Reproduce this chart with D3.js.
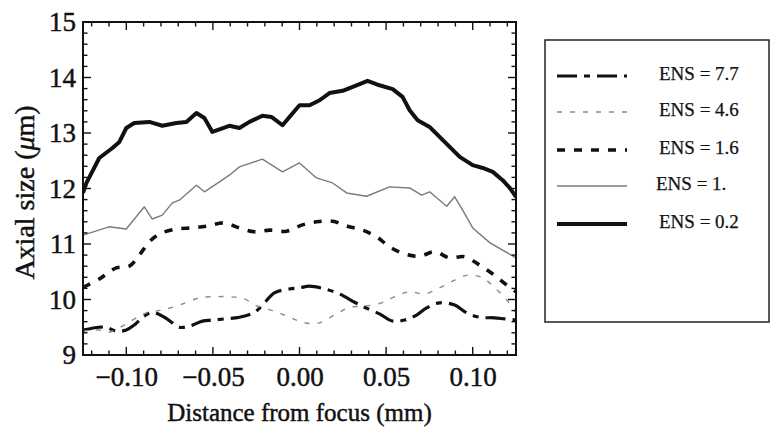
<!DOCTYPE html>
<html>
<head>
<meta charset="utf-8">
<script src="https://cdn.jsdelivr.net/npm/d3@7"></script>
<style>
  html, body { margin: 0; padding: 0; background: #fff; }
  svg { display: block; }
  text { font-family: "Liberation Serif", "Times New Roman", serif; fill: #111; }
</style>
</head>
<body>
<svg id="chart" width="771" height="430"></svg>
<script>
// ---- data ----
const x77 = [-0.125,-0.1156,-0.1116,-0.1058,-0.100,-0.0954,-0.0896,-0.085,-0.078,-0.0734,-0.0694,-0.0636,-0.056,-0.0503,-0.0434,-0.0347,-0.026,-0.0202,-0.0145,-0.0058,0,0.0058,0.0145,0.0231,0.0318,0.0376,0.0462,0.0538,0.0607,0.0676,0.0734,0.0809,0.0896,0.0965,0.104,0.1127,0.1185,0.125];
const y77 = [9.45,9.50,9.50,9.43,9.45,9.54,9.70,9.77,9.68,9.58,9.50,9.52,9.61,9.63,9.65,9.68,9.77,9.94,10.12,10.19,10.21,10.24,10.19,10.10,9.95,9.86,9.74,9.61,9.63,9.72,9.85,9.94,9.90,9.76,9.68,9.67,9.65,9.63];

const x46 = [-0.125,-0.1156,-0.110,-0.1012,-0.0925,-0.0884,-0.0792,-0.0694,-0.0578,-0.0491,-0.0405,-0.0318,-0.0243,-0.0145,-0.0058,0.0029,0.0116,0.0202,0.0289,0.0376,0.0474,0.0549,0.0636,0.0723,0.0809,0.0896,0.0971,0.1058,0.1127,0.1197,0.125];
const y46 = [9.43,9.45,9.41,9.54,9.70,9.76,9.81,9.90,10.03,10.05,10.05,10.01,9.88,9.79,9.68,9.58,9.58,9.72,9.86,9.88,9.94,10.05,10.14,10.10,10.21,10.35,10.44,10.39,10.21,9.99,9.76];

const x16 = [-0.125,-0.1156,-0.1058,-0.0983,-0.0925,-0.0867,-0.0809,-0.0711,-0.0618,-0.0538,-0.0434,-0.0347,-0.026,-0.0173,-0.0075,0.0012,0.0098,0.0191,0.0277,0.0364,0.0445,0.052,0.0607,0.0694,0.078,0.0867,0.0954,0.104,0.1116,0.1197,0.125];
const y16 = [10.22,10.37,10.57,10.60,10.80,11.04,11.18,11.27,11.29,11.32,11.38,11.29,11.22,11.25,11.23,11.34,11.40,11.41,11.32,11.25,11.13,10.95,10.82,10.78,10.86,10.75,10.77,10.62,10.46,10.26,10.14];

const x10 = [-0.125,-0.110,-0.100,-0.0896,-0.085,-0.0792,-0.0734,-0.0694,-0.0595,-0.0549,-0.0462,-0.0405,-0.0347,-0.0214,-0.0098,0,0.0098,0.0191,0.0272,0.0387,0.052,0.0636,0.0705,0.0751,0.085,0.0896,0.0942,0.100,0.110,0.125];
const y10 = [11.16,11.31,11.27,11.67,11.45,11.52,11.74,11.79,12.06,11.94,12.12,12.24,12.39,12.53,12.30,12.46,12.19,12.10,11.92,11.86,12.03,12.01,11.88,11.94,11.68,11.85,11.61,11.29,11.02,10.75];

const x02 = [-0.125,-0.123,-0.1156,-0.108,-0.104,-0.100,-0.0954,-0.0867,-0.0792,-0.0711,-0.0653,-0.0595,-0.0549,-0.0503,-0.0405,-0.0347,-0.0289,-0.0214,-0.0162,-0.0098,-0.0058,0,0.0058,0.0116,0.0173,0.0249,0.0329,0.0393,0.0462,0.0538,0.0595,0.0636,0.0682,0.0751,0.0809,0.0867,0.0925,0.100,0.1058,0.1116,0.1173,0.1214,0.125];
const y02 = [11.92,12.10,12.55,12.73,12.84,13.09,13.18,13.20,13.13,13.18,13.20,13.36,13.27,13.02,13.13,13.09,13.20,13.31,13.29,13.14,13.29,13.50,13.50,13.59,13.72,13.76,13.86,13.94,13.86,13.79,13.65,13.41,13.23,13.11,12.93,12.75,12.57,12.42,12.37,12.30,12.15,12.01,11.85];

const legendLabels = ["ENS = 7.7", "ENS = 4.6", "ENS = 1.6", "ENS = 1.", "ENS = 0.2"];
const xTickValues = [-0.10, -0.05, 0.00, 0.05, 0.10];
const xTickLabels = ["\u22120.10", "\u22120.05", "0.00", "0.05", "0.10"];
const yTickValues = [9, 10, 11, 12, 13, 14, 15];
const xTitle = "Distance from focus (mm)";

// ---- layout ----
const svg = d3.select("#chart");
const L = 83, R = 516, T = 22, B = 355;
const x = d3.scaleLinear().domain([-0.125, 0.125]).range([L, R]);
const y = d3.scaleLinear().domain([9, 15]).range([B, T]);

const series = [
  {xs: x77, ys: y77, stroke: "#111", width: 3.2, dash: "20,7,6,7", curve: d3.curveCatmullRom},
  {xs: x46, ys: y46, stroke: "#8a8a8a", width: 1.4, dash: "5,8", curve: d3.curveCatmullRom},
  {xs: x16, ys: y16, stroke: "#111", width: 3.6, dash: "8,9", curve: d3.curveCatmullRom},
  {xs: x10, ys: y10, stroke: "#7a7a7a", width: 1.4, dash: null, curve: d3.curveLinear},
  {xs: x02, ys: y02, stroke: "#111", width: 4, dash: null, curve: d3.curveLinear}
];

svg.append("clipPath").attr("id", "clip")
  .append("rect").attr("x", L).attr("y", T).attr("width", R - L).attr("height", B - T);

const g = svg.append("g").attr("clip-path", "url(#clip)");
series.forEach(s => {
  const pts = s.xs.map((v, i) => [v, s.ys[i]]);
  const line = d3.line().x(d => x(d[0])).y(d => y(d[1])).curve(s.curve);
  g.append("path").datum(pts)
    .attr("d", line)
    .attr("fill", "none")
    .attr("stroke", s.stroke)
    .attr("stroke-width", s.width)
    .attr("stroke-dasharray", s.dash)
    .attr("stroke-linejoin", "round");
});

// ---- axes (ticks inward on all four sides) ----
const xMinor = d3.range(-12, 13).map(v => v / 100);
const yMinor = d3.range(45, 76).map(v => v / 5);

const heavy = sel => sel.attr("stroke", "#111").attr("stroke-width", 0.45);

const axBottom = svg.append("g").attr("transform", `translate(0,${B})`)
  .call(d3.axisBottom(x).tickValues(xTickValues).tickSize(0).tickPadding(12)
        .tickFormat((d, i) => xTickLabels[i]));
axBottom.select(".domain").remove();
axBottom.selectAll("text").attr("font-size", 27).attr("font-family", "Liberation Serif, serif")
  .attr("fill", "#111").attr("dy", "0.71em").call(heavy);

const axLeft = svg.append("g").attr("transform", `translate(${L},0)`)
  .call(d3.axisLeft(y).tickValues(yTickValues).tickSize(0).tickPadding(7).tickFormat(d3.format("d")));
axLeft.select(".domain").remove();
axLeft.selectAll("text").attr("font-size", 27).attr("font-family", "Liberation Serif, serif")
  .attr("fill", "#111").call(heavy);

// tick marks
const tk = svg.append("g").attr("stroke", "#111").attr("stroke-width", 1.4);
xMinor.forEach(v => {
  const major = xTickValues.some(M => Math.abs(M - v) < 1e-9);
  const len = major ? 8 : 4.5;
  tk.append("line").attr("x1", x(v)).attr("x2", x(v)).attr("y1", B).attr("y2", B - len);
  tk.append("line").attr("x1", x(v)).attr("x2", x(v)).attr("y1", T).attr("y2", T + len);
});
yMinor.forEach(v => {
  const major = Math.abs(v - Math.round(v)) < 1e-9;
  const len = major ? 8 : 4.5;
  tk.append("line").attr("y1", y(v)).attr("y2", y(v)).attr("x1", L).attr("x2", L + len);
  tk.append("line").attr("y1", y(v)).attr("y2", y(v)).attr("x1", R).attr("x2", R - len);
});

// frame
svg.append("rect").attr("x", L).attr("y", T).attr("width", R - L).attr("height", B - T)
  .attr("fill", "none").attr("stroke", "#111").attr("stroke-width", 2);

// axis titles
svg.append("text").attr("x", (L + R) / 2).attr("y", 421).attr("text-anchor", "middle")
  .attr("font-size", 25).call(heavy).text(xTitle);

const yt = svg.append("text").attr("transform", `translate(34,${(T + B) / 2 + 4}) rotate(-90)`)
  .attr("text-anchor", "middle").attr("font-size", 28).call(heavy);
yt.append("tspan").text("Axial size (");
yt.append("tspan").attr("font-style", "italic").text("\u03bc");
yt.append("tspan").text("m)");

// ---- legend ----
const lg = svg.append("g");
lg.append("rect").attr("x", 545).attr("y", 40).attr("width", 224).attr("height", 282)
  .attr("fill", "#fff").attr("stroke", "#222").attr("stroke-width", 1.5);
const rowY = [76, 112, 150, 186, 224];
series.forEach((s, i) => {
  lg.append("line").attr("x1", 557).attr("x2", 627).attr("y1", rowY[i]).attr("y2", rowY[i])
    .attr("stroke", s.stroke).attr("stroke-width", s.width).attr("stroke-dasharray", s.dash);
  lg.append("text").attr("x", i === 3 ? 656 : 659).attr("y", rowY[i] + 4)
    .attr("font-size", 19).attr("stroke", "#111").attr("stroke-width", 0.25)
    .text(legendLabels[i]);
});
</script>
</body>
</html>
